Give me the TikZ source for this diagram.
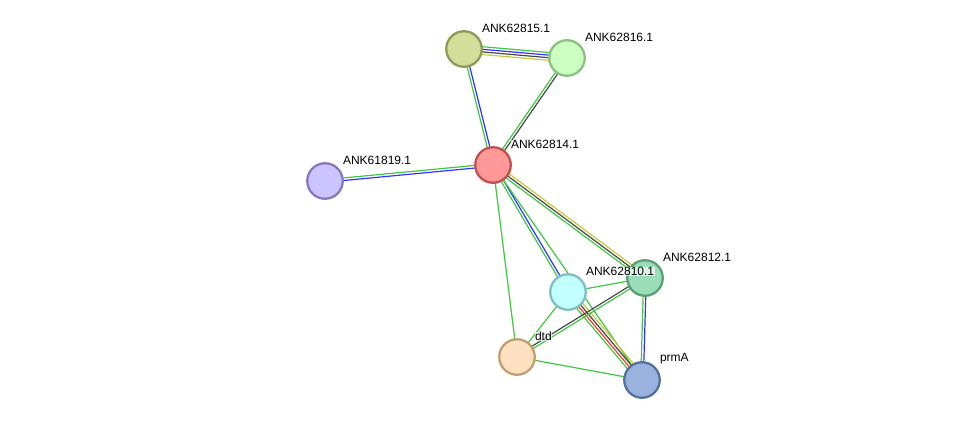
\documentclass[tikz,border=0pt]{standalone}
\usepackage{fontspec}
\setmainfont{Liberation Sans}
\usepackage{tikz}
\usetikzlibrary{calc,backgrounds}
\definecolor{nbgreen}{HTML}{3FC83F}
\definecolor{cooblue}{HTML}{3333FF}
\definecolor{coexgray}{HTML}{484848}
\definecolor{txtyellow}{HTML}{C8C83C}
\definecolor{fusred}{HTML}{FF3333}

% one line per evidence channel, spread side by side
\newcommand{\ppilink}[4]{%
  \foreach \c [count=\i] in {#4}{
    \pgfmathsetmacro{\off}{(\i-(#3+1)/2)*2.6}
    \draw[link, draw=\c] ($(#1)!\off pt!90:(#2)$) -- ($(#2)!\off pt!-90:(#1)$);
  }}

\begin{document}
\begin{tikzpicture}[
  x=1pt, y=-1pt,
  prot/.style={circle, line width=2.3pt, minimum size=35.5pt, inner sep=0pt},
  lbl/.style={font=\fontsize{12}{14}\selectfont, anchor=south west, inner sep=0.5pt, fill=white, fill opacity=0.7, text opacity=1, xshift=4pt, yshift=2pt},
  link/.style={line width=1.2pt}
]
\useasboundingbox (0,0) rectangle (976,426);

\node[prot, draw={rgb,255:red,142;green,154;blue,85}, fill={rgb,255:red,211;green,222;blue,154}] (p15) at (464,49) {};
\node[prot, draw={rgb,255:red,141;green,191;blue,127}, fill={rgb,255:red,204;green,255;blue,194}] (p16) at (567,58) {};
\node[prot, draw={rgb,255:red,192;green,80;blue,80}, fill={rgb,255:red,255;green,153;blue,153}] (p14) at (493,165) {};
\node[prot, draw={rgb,255:red,136;green,120;blue,192}, fill={rgb,255:red,204;green,196;blue,255}] (p19) at (325,181) {};
\node[prot, draw={rgb,255:red,127;green,191;blue,191}, fill={rgb,255:red,194;green,255;blue,255}] (p10) at (568,292) {};
\node[prot, draw={rgb,255:red,90;green,160;blue,112}, fill={rgb,255:red,153;green,222;blue,184}] (p12) at (645,278) {};
\node[prot, draw={rgb,255:red,191;green,160;blue,112}, fill={rgb,255:red,255;green,224;blue,192}] (dtd) at (517,357) {};
\node[prot, draw={rgb,255:red,86;green,112;blue,156}, fill={rgb,255:red,153;green,179;blue,222}] (prmA) at (642,380) {};

% names on top of everything
\node[lbl] (l15) at (p15.north east) {ANK62815.1};
\node[lbl] (l16) at (p16.north east) {ANK62816.1};
\node[lbl] (l14) at (p14.north east) {ANK62814.1};
\node[lbl] (l19) at (p19.north east) {ANK61819.1};
\node[lbl] (l12) at (p12.north east) {ANK62812.1};
\node[lbl] (l10) at (p10.north east) {ANK62810.1};
\node[lbl] (ldtd) at (dtd.north east) {dtd};
\node[lbl] (lprmA) at (prmA.north east) {prmA};

\begin{scope}[on background layer]
\ppilink{p15}{p16}{4}{txtyellow,coexgray,cooblue,nbgreen}
\ppilink{p15}{p14}{2}{nbgreen,cooblue}
\ppilink{p16}{p14}{2}{nbgreen,coexgray}
\ppilink{p19}{p14}{2}{cooblue,nbgreen}
\ppilink{p14}{p12}{3}{nbgreen,coexgray,txtyellow}
\ppilink{p14}{p10}{2}{nbgreen,cooblue}
\ppilink{p14}{dtd}{1}{nbgreen}
\ppilink{p14}{prmA}{1}{nbgreen}
\ppilink{p10}{p12}{1}{nbgreen}
\ppilink{p10}{dtd}{1}{nbgreen}
\ppilink{p10}{prmA}{4}{nbgreen,fusred,coexgray,txtyellow}
\ppilink{p12}{dtd}{2}{coexgray,nbgreen}
\ppilink{p12}{prmA}{2}{nbgreen,cooblue}
\ppilink{dtd}{prmA}{1}{nbgreen}
\end{scope}
\end{tikzpicture}
\end{document}
